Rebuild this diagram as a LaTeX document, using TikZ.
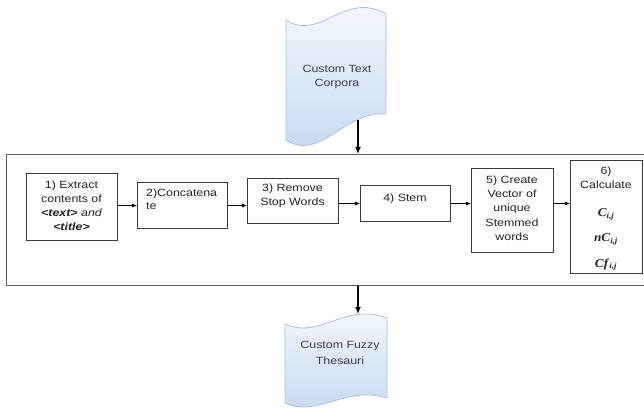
\documentclass[tikz,border=0pt]{standalone}
\usepackage{fontspec}
\setmainfont{Liberation Sans}
\newfontfamily\boxfont{Liberation Sans}[FakeStretch=1.18]
\newfontfamily\mathserif{Liberation Serif}[FakeStretch=1.1]
\usetikzlibrary{arrows.meta}
\definecolor{boxline}{HTML}{3A3A3A}
\definecolor{outerline}{HTML}{5A5A5A}
\definecolor{tapeline}{HTML}{A9C0DC}
\definecolor{tapetop}{HTML}{F7FAFD}
\definecolor{tapebot}{HTML}{C4D8EF}
\definecolor{tapetext}{HTML}{3C3C50}
\definecolor{boxtext}{HTML}{222222}
\tikzset{
  proc/.style={draw=boxline, line width=1.1pt, fill=white, inner sep=0pt, anchor=north west},
  outerbox/.style={draw=outerline, line width=1.3pt, inner sep=0pt, anchor=north west},
  tape/.style={draw=tapeline, line width=0.8pt, top color=tapetop, bottom color=tapebot},
  flow/.style={-{Latex[length=5pt,width=4pt]}, line width=0.8pt, draw=black},
  bigflow/.style={-{Latex[length=7pt,width=6pt]}, line width=1.8pt, draw=black},
  ln/.style={anchor=base, inner sep=0pt, text=boxtext, font=\boxfont\fontsize{10.5}{14}\selectfont},
  lnl/.style={ln, anchor=base west},
  tl/.style={anchor=base, inner sep=0pt, text=tapetext, font=\boxfont\fontsize{10.5}{14}\selectfont},
  mth/.style={anchor=base, inner sep=0pt, text=boxtext, font=\mathserif\bfseries\itshape\fontsize{12}{14}\selectfont}
}
\begin{document}
\begin{tikzpicture}[x=1pt,y=-1pt]
\useasboundingbox (0,0) rectangle (644,411);

% top tape: Custom Text Corpora
\path[tape] (286,20) .. controls (320,42) and (345,-10) .. (386,14)
  -- (386,114) .. controls (345,110) and (320,162) .. (286,140) -- cycle;
\node[tl] (src1) at (337,73) {Custom Text};
\node[tl] (src2) at (337,87) {Corpora};
\coordinate (srcout) at (358,120);

% bottom tape: Custom Fuzzy Thesauri
\path[tape] (285,324) .. controls (319,340) and (345,302) .. (387,318)
  -- (387,398) .. controls (345,385) and (319,418) .. (285,403) -- cycle;
\node[tl] (dst1) at (340,348) {Custom Fuzzy};
\node[tl] (dst2) at (340,364) {Thesauri};
\coordinate (dstin) at (358,314);

% outer frame
\node[outerbox, minimum width=680pt, minimum height=131pt] (outer) at (6,154) {};

% process boxes
\node[proc, minimum width=91pt, minimum height=67pt] (b1) at (26,173) {};
\node[proc, minimum width=90pt, minimum height=46pt] (b2) at (137,182) {};
\node[proc, minimum width=91pt, minimum height=45pt] (b3) at (247,178) {};
\node[proc, minimum width=90pt, minimum height=36pt] (b4) at (360,185) {};
\node[proc, minimum width=82pt, minimum height=84pt] (b5) at (471,168) {};
\node[proc, minimum width=72pt, minimum height=113pt] (b6) at (570,160) {};

% box texts
\node[ln] (t1a) at (71.5,188.5) {1) Extract};
\node[ln] (t1b) at (71.5,202.5) {contents of};
\node[ln] (t1c) at (71.5,216.5) {{\bfseries\itshape<text>} {\itshape and}};
\node[ln] (t1d) at (71.5,230.5) {{\bfseries\itshape<title>}};

\node[lnl] (t2a) at (146,196.5) {2)Concatena};
\node[lnl] (t2b) at (146,210) {te};

\node[ln] (t3a) at (292.5,191.5) {3) Remove};
\node[ln] (t3b) at (292.5,206) {Stop Words};

\node[ln] (t4a) at (405,201.5) {4) Stem};

\node[ln] (t5a) at (512,183.5) {5) Create};
\node[ln] (t5b) at (512,197.5) {Vector of};
\node[ln] (t5c) at (512,212) {unique};
\node[ln] (t5d) at (512,226.5) {Stemmed};
\node[ln] (t5e) at (512,241) {words};

\node[ln] (t6a) at (606,174.5) {6)};
\node[ln] (t6b) at (606,188.5) {Calculate};
\node[mth] (t6c) at (606,217) {C\textsubscript{i,j}};
\node[mth] (t6d) at (606,242) {nC\textsubscript{i,j}};
\node[mth] (t6e) at (606,267) {Cf\textsubscript{\,i,j}};

% connectors
\draw[flow] (b1.east |- b2.center) -- (b2.west);
\draw[flow] (b2.east) -- (b2.east -| b3.west);
\draw[flow] (b3.east |- b4.center) -- (b4.west);
\draw[flow] (b4.east) -- (b4.east -| b5.west);
\draw[flow] (b5.east |- b4.center) -- (b4.center -| b6.west);

\draw[bigflow] (srcout) -- (srcout |- outer.north);
\draw[bigflow] (outer.south -| dstin) -- (dstin);
\end{tikzpicture}
\end{document}
